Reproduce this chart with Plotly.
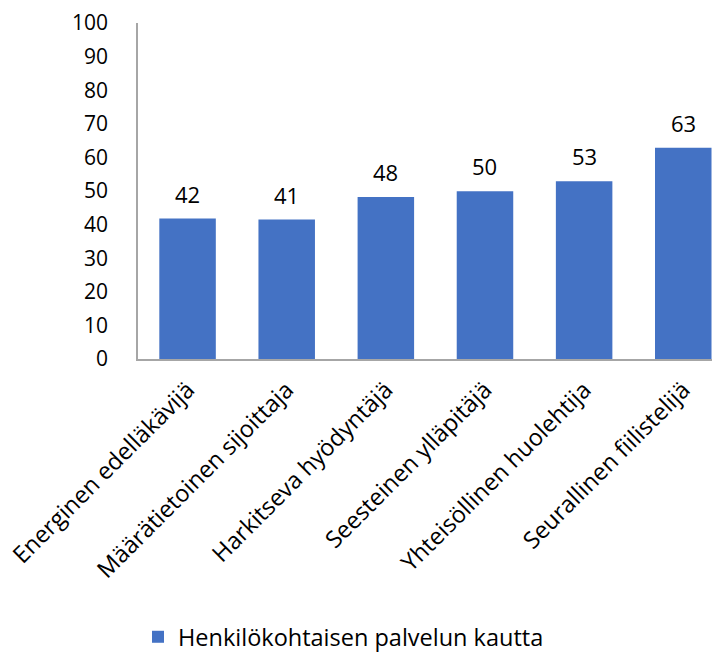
import plotly.graph_objects as go

categories = ["Energinen edelläkävijä", "Määrätietoinen sijoittaja", "Harkitseva hyödyntäjä",
              "Seesteinen ylläpitäjä", "Yhteisöllinen huolehtija", "Seurallinen fiilistelijä"]
values = [41.8, 41.5, 48.2, 49.9, 52.9, 62.9]
labels = ["42", "41", "48", "50", "53", "63"]
series_name = "Henkilökohtaisen palvelun kautta"
y_ticks = list(range(0, 101, 10))

FONT = "Open Sans"
BLUE = "#4472C4"
AXIS = "#A6A6A6"
BLACK = "#000000"

fig = go.Figure()
fig.add_trace(go.Bar(
    x=categories, y=values, name=series_name,
    marker=dict(color=BLUE, line=dict(width=0)),
    width=0.57, showlegend=True,
))
for c, v, t in zip(categories, values, labels):
    fig.add_annotation(x=c, y=v, text=t, showarrow=False, yshift=25,
                       font=dict(family=FONT, size=22, color=BLACK))

fig.update_layout(
    width=712, height=651,
    margin=dict(l=130, r=7, t=15, b=300, autoexpand=False),
    paper_bgcolor="white", plot_bgcolor="white",
    font=dict(family=FONT, size=21, color=BLACK),
    showlegend=True,
    legend=dict(orientation="h", x=0.0, xanchor="left",
                yref="container", y=0.0, yanchor="bottom",
                font=dict(family=FONT, size=23.5, color=BLACK),
                itemwidth=30),
    xaxis=dict(range=[-0.5, 5.3], showline=True, linecolor=AXIS, linewidth=1.5,
               tickangle=-45, ticks="", showgrid=False, zeroline=False, automargin=False,
               ticklabelstandoff=6, tickfont=dict(family=FONT, size=23.5, color=BLACK)),
    yaxis=dict(range=[0, 100], tickvals=y_ticks, showline=True, linecolor=AXIS, linewidth=1.5,
               ticks="", showgrid=False, zeroline=False, ticklabelstandoff=24, automargin=False,
               tickfont=dict(family=FONT, size=21, color=BLACK)),
)

fig.write_html("out.html")
